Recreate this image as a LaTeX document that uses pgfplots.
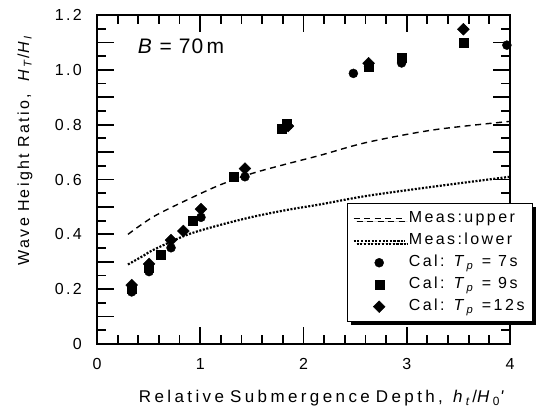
\documentclass[border=0pt]{standalone}
\usepackage{pgfplots}
\pgfplotsset{compat=1.18}
\usepackage{fontspec}
\setmainfont{Liberation Sans}[LetterSpace=15]
\newfontfamily\bfont{Liberation Sans}[LetterSpace=5]
\newfontfamily\legfont{Liberation Sans}[LetterSpace=15]
\newfontfamily\xlabfont{Liberation Sans}[LetterSpace=20]
\usetikzlibrary{shadows}
\begin{document}
\begin{tikzpicture}
\path (0,0) rectangle (536pt,414pt);
\begin{axis}[
  at={(97pt,70pt)}, anchor=south west,
  scale only axis, width=413pt, height=329pt,
  xmin=0, xmax=4, ymin=0, ymax=1.2,
  xtick={0,1,2,3,4}, xticklabels={0,1,2,3,4},
  minor x tick num=4,
  ytick={0,0.1,0.2,0.3,0.4,0.5,0.6,0.7,0.8,0.9,1.0,1.1,1.2},
  yticklabels={0,,0.2,,0.4,,0.6,,0.8,,1.0,,1.2},
  minor y tick num=1,
  tick align=inside,
  major tick length=17pt, minor tick length=9pt,
  tick style={black, line width=1.8pt},
  axis line style={line width=2.5pt, black},
  tick label style={font=\fontsize{16}{19}\selectfont},
  yticklabel style={anchor=east, inner sep=0pt, xshift=-15pt},
  xticklabel style={anchor=north, inner sep=0pt, yshift=-14pt},
  legend cell align=left,
  legend image code/.code={\draw[mark repeat=2,mark phase=2] plot coordinates {(0pt,0pt) (25.5pt,0pt) (51pt,0pt)};},
  legend style={at={(rel axis cs:0.605,0.4286)}, anchor=north west,
    draw=black, line width=1.5pt, fill=white,
    font=\legfont\fontsize{16}{19}\selectfont,
    inner xsep=5pt, inner ysep=7pt,
    drop shadow={shadow xshift=3pt, shadow yshift=-3pt, opacity=1, fill=black},
    nodes={inner xsep=3pt, inner ysep=0pt, text height=12pt, text depth=4pt},
    row sep=6pt},
]
\addplot[black, line width=1.4pt, dash pattern=on 6pt off 4.5pt, smooth] coordinates {
(0.3,0.400) (0.545,0.464) (0.869,0.525) (1.19,0.580) (1.51,0.623) (1.84,0.657)
(2.16,0.688) (2.61,0.735) (3.26,0.781) (4.0,0.812)};
\addlegendentry{Meas:upper}
\addplot[black, line width=2.2pt, dash pattern=on 2pt off 1.6pt, smooth] coordinates {
(0.3,0.290) (0.45,0.322) (0.545,0.343) (0.87,0.398) (1.19,0.434) (1.51,0.464)
(1.84,0.489) (2.16,0.509) (2.61,0.540) (3.26,0.574) (4.0,0.610)};
\addlegendentry{Meas:lower}
\addplot[only marks, mark=*, mark size=4.5pt, black, line width=0.4pt] coordinates {
(0.336,0.190) (0.504,0.264) (0.717,0.351) (1.007,0.462) (1.433,0.610)
(1.83,0.795) (2.483,0.987) (2.63,1.012) (2.95,1.025) (3.97,1.090)};
\addlegendentry{Cal: \textit{T}\textsubscript{\textit{p}} = 7\,s}
\addplot[only marks, mark=square*, mark size=4.5pt, black, line width=0.4pt] coordinates {
(0.336,0.200) (0.504,0.280) (0.617,0.325) (0.927,0.450) (1.32,0.610)
(1.785,0.787) (1.837,0.805) (2.63,1.012) (2.95,1.043) (3.548,1.099)};
\addlegendentry{Cal: \textit{T}\textsubscript{\textit{p}} = 9\,s}
\addplot[only marks, mark=square*, mark options={rotate=45}, mark size=4.2pt, black, line width=0.4pt] coordinates {
(0.336,0.215) (0.504,0.292) (0.717,0.379) (0.836,0.412) (1.007,0.492)
(1.433,0.640) (1.85,0.795) (2.63,1.024) (3.548,1.148)};
\addlegendentry{Cal: \textit{T}\textsubscript{\textit{p}} =12\,s}
\end{axis}
\node[font=\bfont\fontsize{21}{25}\selectfont] at (181pt,368pt) {\textit{B} = 70\,m};
\node[rotate=90, font=\fontsize{16}{19}\selectfont] at (25pt,264pt)
  {Wave\hspace{6pt}Height\hspace{6pt}Ratio,\hspace{12pt}\textit{H}\textsubscript{\textit{T}}/\textit{H}\textsubscript{\textit{I}}};
\node[anchor=base, font=\xlabfont\fontsize{17}{20}\selectfont] at (323pt,11pt)
  {Relative\hspace{6pt}Submergence\hspace{6pt}Depth,\hspace{10pt}\textit{h}\textsubscript{\textit{t}}/\textit{H}\textsubscript{0}\textit{'}};
\end{tikzpicture}
\end{document}
